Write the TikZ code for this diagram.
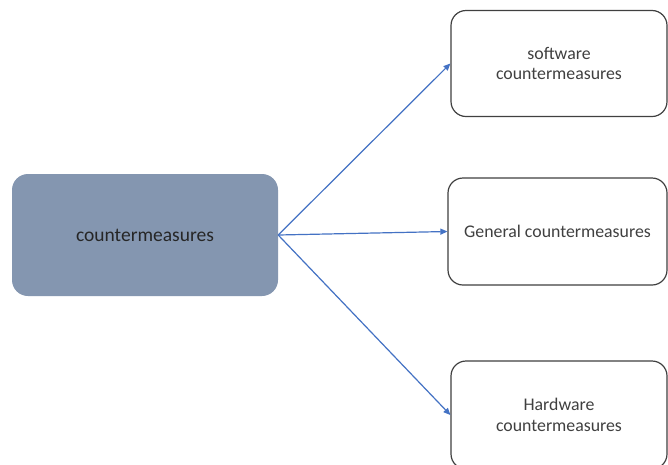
\documentclass[tikz,border=0pt]{standalone}
\usepackage{fontspec}
\setmainfont{Carlito}
\usetikzlibrary{arrows.meta}
\definecolor{hubfill}{HTML}{8496B0}
\definecolor{linkblue}{HTML}{4472C4}
\definecolor{boxline}{HTML}{404040}
\definecolor{txt}{HTML}{404040}
\begin{document}
\begin{tikzpicture}[x=1pt,y=-1pt,
  hub/.style={rounded corners=16pt, fill=hubfill, draw=none,
    minimum width=266pt, minimum height=122pt, inner sep=0pt,
    text=black!85, font=\fontsize{19.5}{23}\selectfont},
  leaf/.style={rounded corners=15pt, draw=boxline, line width=1.2pt, fill=white,
    minimum width=216pt, minimum height=106pt, inner sep=0pt,
    align=center, text=txt, font=\fontsize{17.8}{20.5}\selectfont},
  link/.style={draw=linkblue, line width=1.2pt, -{Triangle[length=7pt,width=6pt]}}]
\useasboundingbox (0,0) rectangle (668,464);
\fill[white] (0,0) rectangle (668,464);
\node[hub] (hub) at (145,235) {countermeasures};
\node[leaf] (sw) at (559,63.5) {software\\countermeasures};
\node[leaf, minimum width=219pt, minimum height=107pt] (gen) at (557.5,231.5) {General countermeasures};
\node[leaf, minimum height=108pt] (hw) at (559,415) {Hardware\\countermeasures};
\draw[link] (hub.east) -- (sw.west);
\draw[link] (hub.east) -- (gen.west);
\draw[link] (hub.east) -- (hw.west);
\end{tikzpicture}
\end{document}
